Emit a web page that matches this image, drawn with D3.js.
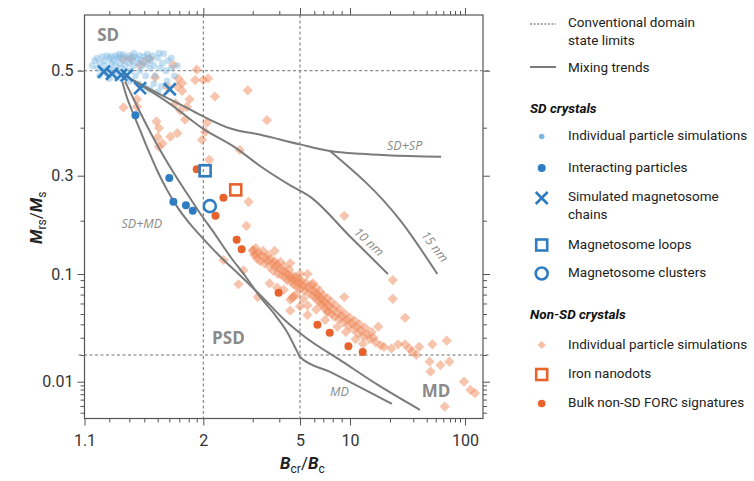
<!DOCTYPE html>
<html>
<head>
<meta charset="utf-8">
<script src="https://cdn.jsdelivr.net/npm/d3@7"></script>
<style>
  body { margin: 0; background: #fff; }
  svg { font-family: Roboto, "Liberation Sans", sans-serif; }
</style>
</head>
<body>
<svg id="chart" width="754" height="481"></svg>
<script>
// ---------- data (Bcr/Bc, Mrs/Ms) ----------

// SD crystals: individual particle simulations
const sdSimulations = [
  [1.13,0.51],[1.14,0.52],[1.15,0.505],[1.15,0.525],[1.16,0.515],[1.17,0.528],[1.17,0.50],[1.18,0.52],
  [1.18,0.51],[1.19,0.53],[1.19,0.495],[1.20,0.525],[1.20,0.505],[1.21,0.515],[1.21,0.528],[1.22,0.52],
  [1.22,0.50],[1.23,0.51],[1.23,0.53],[1.24,0.525],[1.24,0.495],[1.25,0.515],[1.25,0.528],[1.26,0.505],
  [1.27,0.52],[1.27,0.532],[1.28,0.51],[1.28,0.495],[1.29,0.525],[1.30,0.515],[1.30,0.53],[1.31,0.50],
  [1.32,0.52],[1.33,0.528],[1.33,0.51],[1.34,0.49],[1.35,0.525],[1.36,0.515],[1.37,0.53],[1.37,0.50],
  [1.38,0.52],[1.39,0.51],[1.40,0.528],[1.41,0.49],[1.42,0.515],[1.43,0.525],[1.44,0.505],[1.45,0.52],
  [1.46,0.53],[1.47,0.51],[1.48,0.49],[1.50,0.525],[1.51,0.535],[1.52,0.505],[1.54,0.515],[1.55,0.534],
  [1.57,0.50],[1.59,0.52],[1.62,0.505],[1.36,0.475],[1.40,0.47],[1.44,0.465],[1.47,0.475],[1.50,0.46],
  [1.53,0.47],[1.30,0.48],[1.26,0.485],[1.20,0.485],[1.16,0.49],[1.33,0.535],[1.42,0.533],[1.25,0.533],
  [1.65,0.49],[1.58,0.48],[1.68,0.51],[1.62,0.525]
];

// SD crystals: interacting particles
const sdInteracting = [[1.34,0.42],[1.60,0.294],[1.64,0.237],[1.77,0.230],[1.85,0.219]];

// SD crystals: simulated magnetosome chains
const sdChains = [[1.178,0.498],[1.213,0.494],[1.258,0.492],[1.287,0.491],[1.371,0.467],[1.605,0.465]];

// SD crystals: magnetosome loops and clusters
const sdLoops = [[2.03,0.309]];
const sdClusters = [[2.11,0.228]];

// Non-SD crystals: individual particle simulations
const nonSdSimulations = [
  // upper scatter
  [1.27,0.433],[1.35,0.447],[1.35,0.434],[1.48,0.487],[1.49,0.41],[1.51,0.399],[1.50,0.378],[1.51,0.357],
  [1.54,0.364],[1.61,0.379],[1.68,0.387],[1.71,0.428],[1.66,0.44],[1.64,0.511],[1.69,0.485],[1.73,0.476],
  [1.73,0.462],[1.78,0.434],[1.76,0.413],[1.81,0.447],[1.90,0.502],[1.88,0.482],[2.00,0.482],[2.08,0.485],
  [2.06,0.408],[2.03,0.39],[1.98,0.372],[2.10,0.33],[2.20,0.452],[2.88,0.463],[3.50,0.412],[2.70,0.35],
  [2.90,0.237],[1.58,0.47],[1.27,0.524],[1.31,0.524],[1.40,0.518],[1.44,0.524],[1.37,0.511],[1.68,0.47],
  // lower scatter
  [2.36,0.12],[2.67,0.0837],[2.78,0.105],[2.85,0.187],[3.02,0.137],[3.12,0.128],[3.17,0.067],[4.5,0.064],
  [4.66,0.068],[4.5,0.053],[5.0,0.057],[5.5,0.049],[9.3,0.209],[21,0.09],[21,0.065],[26,0.046],
  [16.3,0.038],[17,0.025],[18,0.0242],[20.5,0.0233],[23,0.0257],[26,0.0257],[28,0.0233],[29.5,0.0216],
  [34,0.0242],[46,0.0257],[65,0.028],[32,0.02],[43,0.0168],[44,0.013],[56,0.0154],[69,0.0168],
  [62,0.0049],[98,0.01],[112,0.0079],[123,0.0072],
  // main trend band
  [3.0,0.135],[3.05,0.128],[3.1,0.14],[3.15,0.122],[3.2,0.131],[3.25,0.118],[3.3,0.127],[3.35,0.135],
  [3.4,0.115],[3.45,0.124],[3.5,0.119],[3.55,0.128],[3.6,0.110],[3.65,0.121],[3.7,0.115],[3.75,0.104],
  [3.8,0.118],[3.85,0.109],[3.9,0.113],[3.95,0.100],[4.0,0.108],[4.05,0.117],[4.1,0.098],[4.15,0.104],
  [4.2,0.110],[4.25,0.095],[4.3,0.102],[4.35,0.090],[4.4,0.099],[4.45,0.106],[4.5,0.093],[4.55,0.087],
  [4.6,0.097],[4.65,0.091],[4.7,0.083],[4.75,0.095],[4.8,0.088],[4.85,0.080],[4.9,0.091],[5.0,0.085],
  [5.05,0.078],[5.1,0.089],[5.2,0.082],[5.3,0.075],[5.4,0.086],[5.5,0.079],[5.6,0.071],[5.7,0.077],
  [5.8,0.083],[5.9,0.069],[6.0,0.074],[6.1,0.066],[6.2,0.079],[6.3,0.071],[6.4,0.063],[6.5,0.068],
  [6.6,0.074],[6.7,0.060],[6.8,0.065],[6.9,0.058],[7.0,0.069],[7.1,0.062],[7.2,0.055],[7.3,0.060],
  [7.4,0.066],[7.5,0.052],[7.6,0.057],[7.8,0.062],[7.9,0.050],[8.0,0.055],[8.2,0.047],[8.3,0.058],
  [8.5,0.051],[8.7,0.045],[8.8,0.054],[9.0,0.048],[9.2,0.042],[9.4,0.050],[9.6,0.044],[9.8,0.039],
  [10.0,0.046],[10.3,0.041],[10.6,0.036],[10.9,0.043],[11.2,0.038],[11.5,0.033],[11.8,0.040],[12.2,0.035],
  [12.6,0.031],[13.0,0.037],[13.5,0.032],[14.0,0.029],[14.5,0.034],[15.0,0.030],[15.6,0.027],
  [4.2,0.076],[4.6,0.066],[5.5,0.058],[6.2,0.054],[7.2,0.044],[8.5,0.038],[9.5,0.034],[11,0.029],
  [12.5,0.026],[3.6,0.085],[3.9,0.079],[3.8,0.135],[4.5,0.115],[5.5,0.10],[5.9,0.085],[5.0,0.10],
  [5.2,0.065],[4.8,0.07],[7.4,0.052],[9.3,0.067]
];

// Non-SD crystals: iron nanodots
const ironNanodots = [[2.61,0.264]];

// Non-SD crystals: bulk non-SD FORC signatures
const bulkForc = [[1.90,0.312],[2.36,0.246],[2.21,0.209],[2.63,0.156],[2.74,0.138],[3.97,0.0723],
  [6.33,0.0397],[7.67,0.0334],[9.8,0.0246],[12.46,0.0214]];

// Mixing trends
const mixSDSP = [[1.27,0.492],[1.5,0.458],[1.75,0.435],[2.0,0.418],[2.5,0.398],[3.3,0.383],[5,0.362],
  [7.7,0.348],[12,0.342],[19,0.339],[57,0.336]];
const mix10nm = [[1.27,0.492],[1.6,0.44],[2.0,0.397],[2.6,0.355],[3.3,0.316],[4.5,0.275],[5.7,0.248],
  [10,0.163],[19.3,0.1]];
const mix15nm = [[7.7,0.348],[24,0.2],[52,0.1]];
const mixSDMD1 = [[1.264,0.479],[1.289,0.449],[1.325,0.423],[1.371,0.394],[1.428,0.35],[1.495,0.31],
  [1.58,0.264],[1.687,0.224],[1.816,0.192],[2.0,0.158],[2.29,0.126],[2.70,0.098],[3.32,0.0672],
  [4.25,0.0437],[5.33,0.0305],[8.8,0.0176],[16.8,0.0088],[34.6,0.0044]];
const mixSDMD2 = [[1.278,0.479],[1.318,0.453],[1.371,0.425],[1.443,0.39],[1.52,0.35],[1.627,0.31],
  [1.771,0.259],[1.95,0.214],[2.20,0.168],[2.49,0.126],[2.82,0.0966],[3.25,0.0672],[3.82,0.049],
  [4.35,0.034],[4.84,0.0219],[5.0,0.019],[7.71,0.0129],[20.7,0.0053]];

// Domain-state limits (Bcr/Bc and Mrs/Ms)
const bcrLimits = [2, 5];
const mrsLimits = [0.5, 0.02];

// Tick values
const xTicksMajor = [1.1, 2, 5, 10, 100];
const xTicksMinor = [1.2,1.3,1.4,1.5,1.6,1.7,1.8,1.9,3,4,6,7,8,9,20,30,40,50,60,70,80,90];
const yTicksMajor = [0.5, 0.3, 0.1, 0.01];
const yTicksMinor = [0.4,0.2,0.09,0.08,0.07,0.06,0.05,0.04,0.03,0.02,0.009,0.008,0.007,0.006,0.005,0.004];

// ---------- layout ----------
const svg = d3.select("#chart");
const plotL = 84.5, plotR = 483, plotT = 15, plotB = 418.5;

// Calibrated, piecewise logarithmic axes
const x = d3.scaleLog()
  .domain([1.1,1.2,1.3,1.4,1.5,1.6,1.7,1.8,1.9,2,3,4,5,6,7,8,9,10,20,30,40,50,60,70,80,90,100,145])
  .range([plotL,109.3,129.3,144.3,157.7,169.3,179.3,188.7,196.7,203.3,252.7,279.3,300,314.3,323.3,332.7,
          341.7,350,390,413.3,426.7,435.7,443.3,450,455,460,465,plotR]);
const y = d3.scaleLog()
  .domain([0.62,0.5,0.4,0.3,0.2,0.1,0.05,0.03,0.02,0.01,0.005,0.0033])
  .range([plotT,70.7,127.7,175.7,220.7,274,314,337.7,355,381.7,406,plotB]);

const gray = "#7b7b7b", labelGray = "#8a8a8a";
const blue = "#2f7dc0", lightBlue = "#7db7e2";
const orange = "#e8622c", lightOrange = "#f08a5c";

// ---------- axes ----------
function styleAxis(g) {
  g.select(".domain").remove();
  g.selectAll(".tick line").attr("stroke", "#555").attr("stroke-width", 1);
  g.selectAll(".tick text").attr("fill", "#333").attr("font-size", 16)
    .attr("font-family", "Roboto, sans-serif");
}
const fmt = d => String(d);
svg.append("g").attr("transform", `translate(0,${plotB})`)
  .call(d3.axisBottom(x).tickValues(xTicksMajor).tickSize(7).tickPadding(9).tickFormat(fmt)).call(styleAxis);
svg.append("g").attr("transform", `translate(0,${plotB})`)
  .call(d3.axisBottom(x).tickValues(xTicksMinor).tickSize(4).tickFormat("")).call(styleAxis);
svg.append("g").attr("transform", `translate(0,${plotT})`)
  .call(d3.axisTop(x).tickValues(xTicksMajor.slice(1)).tickSize(7).tickFormat("")).call(styleAxis);
svg.append("g").attr("transform", `translate(0,${plotT})`)
  .call(d3.axisTop(x).tickValues(xTicksMinor).tickSize(4).tickFormat("")).call(styleAxis);
svg.append("g").attr("transform", `translate(${plotL},0)`)
  .call(d3.axisLeft(y).tickValues(yTicksMajor).tickSize(7).tickPadding(4).tickFormat(fmt)).call(styleAxis);
svg.append("g").attr("transform", `translate(${plotL},0)`)
  .call(d3.axisLeft(y).tickValues(yTicksMinor).tickSize(4).tickFormat("")).call(styleAxis);
svg.append("g").attr("transform", `translate(${plotR},0)`)
  .call(d3.axisRight(y).tickValues(yTicksMajor).tickSize(7).tickFormat("")).call(styleAxis);
svg.append("g").attr("transform", `translate(${plotR},0)`)
  .call(d3.axisRight(y).tickValues(yTicksMinor).tickSize(4).tickFormat("")).call(styleAxis);

// frame
svg.append("rect").attr("x", plotL).attr("y", plotT).attr("width", plotR - plotL).attr("height", plotB - plotT)
  .attr("fill", "none").attr("stroke", "#555").attr("stroke-width", 1.2);

// domain-state limits
const limits = svg.append("g").attr("stroke", "#707070").attr("stroke-width", 1).attr("stroke-dasharray", "3,2.5");
limits.selectAll("line.v").data(bcrLimits).join("line").attr("class", "v")
  .attr("x1", d => x(d)).attr("x2", d => x(d)).attr("y1", plotT).attr("y2", plotB);
limits.selectAll("line.h").data(mrsLimits).join("line").attr("class", "h")
  .attr("x1", plotL - 6).attr("x2", plotR + 6).attr("y1", d => y(d)).attr("y2", d => y(d));

// ---------- marks ----------
const diamond = d3.symbol(d3.symbolSquare, 52)();
const plot = svg.append("g");

plot.append("g").selectAll("path").data(nonSdSimulations).join("path")
  .attr("d", diamond)
  .attr("transform", d => `translate(${x(d[0])},${y(d[1])}) rotate(45)`)
  .attr("fill", lightOrange).attr("fill-opacity", 0.5);

plot.append("g").selectAll("circle").data(sdSimulations).join("circle")
  .attr("cx", d => x(d[0])).attr("cy", d => y(d[1])).attr("r", 3.4)
  .attr("fill", lightBlue).attr("fill-opacity", 0.45);

const line = d3.line().x(d => x(d[0])).y(d => y(d[1])).curve(d3.curveMonotoneX);
plot.append("g").selectAll("path").data([mixSDSP, mix10nm, mix15nm, mixSDMD1, mixSDMD2]).join("path")
  .attr("d", line).attr("fill", "none").attr("stroke", gray).attr("stroke-width", 2);

plot.append("g").selectAll("circle").data(sdInteracting).join("circle")
  .attr("cx", d => x(d[0])).attr("cy", d => y(d[1])).attr("r", 4).attr("fill", blue);

plot.append("g").selectAll("circle").data(bulkForc).join("circle")
  .attr("cx", d => x(d[0])).attr("cy", d => y(d[1])).attr("r", 4).attr("fill", orange);

const cross = d3.symbol(d3.symbolX, 95)();
plot.append("g").selectAll("path").data(sdChains).join("path")
  .attr("d", cross).attr("transform", d => `translate(${x(d[0])},${y(d[1])})`)
  .attr("fill", "none").attr("stroke", blue).attr("stroke-width", 2.6);

plot.append("g").selectAll("rect").data(sdLoops).join("rect")
  .attr("x", d => x(d[0]) - 5.5).attr("y", d => y(d[1]) - 5.5).attr("width", 11).attr("height", 11)
  .attr("fill", "none").attr("stroke", blue).attr("stroke-width", 2.6);

plot.append("g").selectAll("circle").data(sdClusters).join("circle")
  .attr("cx", d => x(d[0])).attr("cy", d => y(d[1])).attr("r", 6)
  .attr("fill", "none").attr("stroke", blue).attr("stroke-width", 2.6);

plot.append("g").selectAll("rect").data(ironNanodots).join("rect")
  .attr("x", d => x(d[0]) - 5.5).attr("y", d => y(d[1]) - 5.5).attr("width", 11).attr("height", 11)
  .attr("fill", "none").attr("stroke", orange).attr("stroke-width", 2.6);

// ---------- region and trend labels ----------
const notes = svg.append("g").attr("fill", labelGray).attr("font-family", "'Open Sans', 'Noto Sans', sans-serif");
notes.append("text").attr("x", x(1.15)).attr("y", y(0.56)).attr("font-size", 17).attr("font-weight", "bold").text("SD");
notes.append("text").attr("x", x(2.15)).attr("y", y(0.0256)).attr("font-size", 17).attr("font-weight", "bold").text("PSD");
notes.append("text").attr("x", x(36)).attr("y", y(0.0065)).attr("font-size", 17).attr("font-weight", "bold").text("MD");
const ital = notes.append("g").attr("font-style", "italic").attr("font-size", 12.5);
ital.append("text").attr("x", x(7.7)).attr("y", y(0.0067)).text("MD");
ital.append("text").attr("x", x(1.26)).attr("y", y(0.181)).text("SD+MD");
ital.append("text").attr("x", x(19)).attr("y", y(0.35)).text("SD+SP");
ital.append("text").attr("text-anchor", "middle").attr("dy", "0.35em")
  .attr("transform", `translate(${x(13.9)},${y(0.152)}) rotate(43)`).text("10 nm");
ital.append("text").attr("text-anchor", "middle").attr("dy", "0.35em")
  .attr("transform", `translate(${x(49)},${y(0.143)}) rotate(52)`).text("15 nm");

// ---------- axis titles ----------
function subTitle(g, main1, sub1, main2, sub2) {
  const t = g.append("text").attr("fill", "#222").attr("font-size", 17);
  t.append("tspan").attr("font-style", "italic").attr("font-weight", "bold").text(main1);
  t.append("tspan").attr("font-size", 12).attr("dy", 4).text(sub1);
  t.append("tspan").attr("dy", -4).text("/");
  t.append("tspan").attr("font-style", "italic").attr("font-weight", "bold").text(main2);
  t.append("tspan").attr("font-size", 12).attr("dy", 4).text(sub2);
  return t;
}
subTitle(svg.append("g").attr("transform", "translate(280,469)"), "B", "cr", "B", "c");
subTitle(svg.append("g").attr("transform", "translate(42,244) rotate(-90)"), "M", "rs", "M", "s");

// ---------- legend ----------
const lg = svg.append("g").attr("font-size", 13.5).attr("fill", "#222");
const symX = 541.7, txtX = 568;
function legendText(yc, str, opts = {}) {
  const t = lg.append("text").attr("x", opts.x || txtX).attr("y", yc).attr("dy", "0.35em").text(str);
  if (opts.heading) t.attr("font-weight", "bold").attr("font-style", "italic").attr("fill", "#111");
  return t;
}
lg.append("line").attr("x1", 530).attr("x2", 556).attr("y1", 24).attr("y2", 24)
  .attr("stroke", "#555").attr("stroke-width", 1).attr("stroke-dasharray", "2,1.6");
legendText(22, "Conventional domain");
legendText(40.5, "state limits");
lg.append("line").attr("x1", 530).attr("x2", 556).attr("y1", 67).attr("y2", 67)
  .attr("stroke", gray).attr("stroke-width", 2);
legendText(67, "Mixing trends");

legendText(108, "SD crystals", { x: 530, heading: true });
lg.append("circle").attr("cx", symX).attr("cy", 136.5).attr("r", 2.8).attr("fill", lightBlue);
legendText(135.5, "Individual particle simulations");
lg.append("circle").attr("cx", symX).attr("cy", 168).attr("r", 4).attr("fill", blue);
legendText(167.5, "Interacting particles");
lg.append("path").attr("d", cross).attr("transform", `translate(${symX},198)`)
  .attr("fill", "none").attr("stroke", blue).attr("stroke-width", 2.6);
legendText(196.5, "Simulated magnetosome");
legendText(214.5, "chains");
lg.append("rect").attr("x", symX - 5.5).attr("y", 245 - 5.5).attr("width", 11).attr("height", 11)
  .attr("fill", "none").attr("stroke", blue).attr("stroke-width", 2.6);
legendText(244, "Magnetosome loops");
lg.append("circle").attr("cx", symX).attr("cy", 273.5).attr("r", 6)
  .attr("fill", "none").attr("stroke", blue).attr("stroke-width", 2.6);
legendText(272.5, "Magnetosome clusters");

legendText(314.5, "Non-SD crystals", { x: 530, heading: true });
lg.append("path").attr("d", d3.symbol(d3.symbolSquare, 34)())
  .attr("transform", `translate(${symX},345) rotate(45)`).attr("fill", lightOrange).attr("fill-opacity", 0.55);
legendText(344, "Individual particle simulations");
lg.append("rect").attr("x", symX - 5.5).attr("y", 374.5 - 5.5).attr("width", 11).attr("height", 11)
  .attr("fill", "none").attr("stroke", orange).attr("stroke-width", 2.6);
legendText(373.5, "Iron nanodots");
lg.append("circle").attr("cx", symX).attr("cy", 403.5).attr("r", 3.8).attr("fill", orange);
legendText(402.5, "Bulk non-SD FORC signatures");
</script>
</body>
</html>
